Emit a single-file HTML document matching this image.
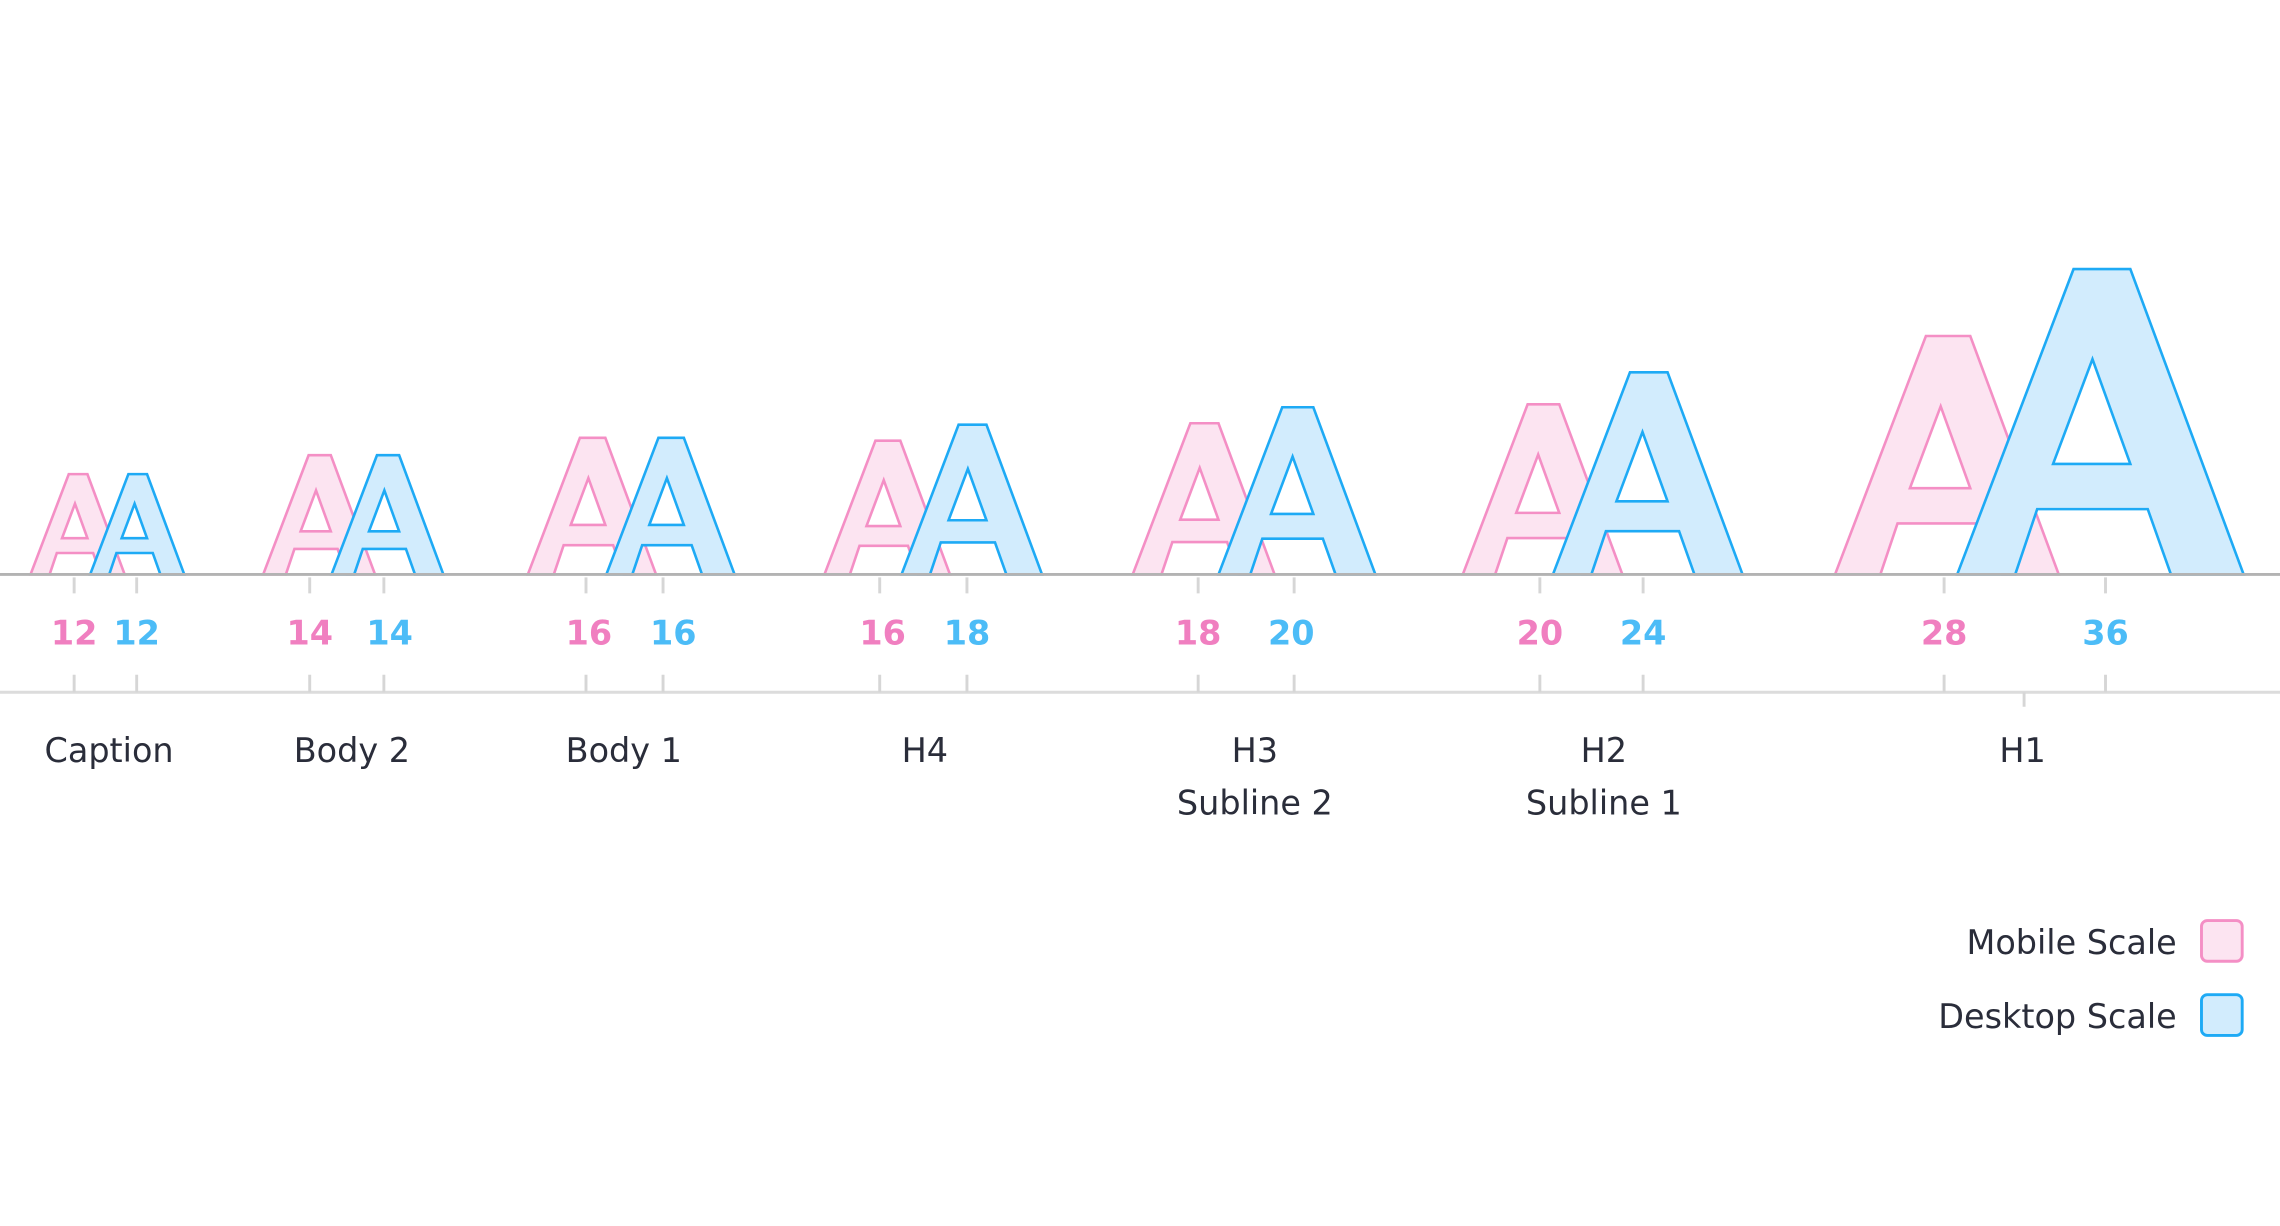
<!DOCTYPE html>
<html><head><style>
html,body{margin:0;padding:0;background:#fff;}
svg{display:block}
text{font-family:"DejaVu Sans","Liberation Sans",sans-serif;}
.n{font-weight:bold;font-size:23px;text-anchor:middle}
.l{font-size:23px;fill:#2a2d3a;text-anchor:middle}
</style></head><body>
<svg width="2280" height="1226" viewBox="0 0 1568 843" xmlns="http://www.w3.org/2000/svg">
<defs>
<path id="A" vector-effect="non-scaling-stroke" fill-rule="evenodd" d="M0,1 L0.381,0 L0.567,0 L0.938,1 L0.700,1 L0.624,0.786 L0.262,0.786 L0.190,1 Z M0.443,0.295 L0.314,0.638 L0.567,0.638 Z"/>
</defs>
<g stroke-width="2.6" stroke-linejoin="miter">
<g fill="#fce4f1" stroke="#f48fc5">
<use href="#A" transform="translate(21,326) scale(69)"/>
<use href="#A" transform="translate(181,313) scale(82)"/>
<use href="#A" transform="translate(363,301) scale(94)"/>
<use href="#A" transform="translate(567,303) scale(92)"/>
<use href="#A" transform="translate(779,291) scale(104)"/>
<use href="#A" transform="translate(1006,278) scale(117)"/>
<use href="#A" transform="translate(1262,231) scale(164)"/>
</g>
<g fill="#d2ecfd" stroke="#1eaaf5">
<use href="#A" transform="translate(62,326) scale(69)"/>
<use href="#A" transform="translate(228,313) scale(82)"/>
<use href="#A" transform="translate(417,301) scale(94)"/>
<use href="#A" transform="translate(620,292) scale(103)"/>
<use href="#A" transform="translate(838,280) scale(115)"/>
<use href="#A" transform="translate(1068,256) scale(139)"/>
<use href="#A" transform="translate(1346,185) scale(210)"/>
</g>
</g>
<line x1="0" y1="395" x2="1568" y2="395" stroke="#b3b3b3" stroke-width="2"/>
<line x1="0" y1="476" x2="1568" y2="476" stroke="#dcdcdc" stroke-width="2"/>
<g stroke="#d6d6d6" stroke-width="2">
<path d="M51,397V408M94,397V408M213,397V408M264,397V408M403,397V408M456,397V408M605,397V408M665,397V408M824,397V408M890,397V408M1059,397V408M1130,397V408M1337,397V408M1448,397V408"/>
<path d="M51,464V476M94,464V476M213,464V476M264,464V476M403,464V476M456,464V476M605,464V476M665,464V476M824,464V476M890,464V476M1059,464V476M1130,464V476M1337,464V476M1448,464V476M1392,476V486"/>
</g>
<g class="n">
<text x="51" y="443" fill="#f07fc0">12</text><text x="94" y="443" fill="#4cbcf7">12</text>
<text x="213" y="443" fill="#f07fc0">14</text><text x="268" y="443" fill="#4cbcf7">14</text>
<text x="405" y="443" fill="#f07fc0">16</text><text x="463" y="443" fill="#4cbcf7">16</text>
<text x="607" y="443" fill="#f07fc0">16</text><text x="665" y="443" fill="#4cbcf7">18</text>
<text x="824" y="443" fill="#f07fc0">18</text><text x="888" y="443" fill="#4cbcf7">20</text>
<text x="1059" y="443" fill="#f07fc0">20</text><text x="1130" y="443" fill="#4cbcf7">24</text>
<text x="1337" y="443" fill="#f07fc0">28</text><text x="1448" y="443" fill="#4cbcf7">36</text>
</g>
<g class="l">
<text x="75" y="524">Caption</text>
<text x="242" y="524">Body 2</text>
<text x="429" y="524">Body 1</text>
<text x="636" y="524">H4</text>
<text x="863" y="524">H3</text><text x="863" y="560">Subline 2</text>
<text x="1103" y="524">H2</text><text x="1103" y="560">Subline 1</text>
<text x="1391" y="524">H1</text>
<text x="1497" y="656" style="text-anchor:end">Mobile Scale</text>
<text x="1497" y="707" style="text-anchor:end">Desktop Scale</text>
</g>
<rect x="1514" y="633" width="28" height="28" rx="4" fill="#fce4f1" stroke="#f48fc5" stroke-width="2"/>
<rect x="1514" y="684" width="28" height="28" rx="4" fill="#d2ecfd" stroke="#1eaaf5" stroke-width="2"/>
</svg>
</body></html>
